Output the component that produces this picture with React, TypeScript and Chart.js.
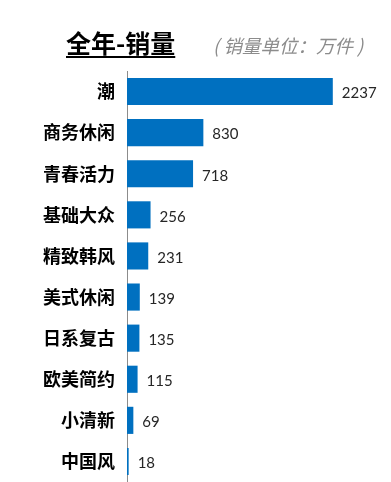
import React, { useEffect, useRef } from "react";
import { Chart, registerables } from "chart.js";

Chart.register(...registerables);

const categories = ["潮", "商务休闲", "青春活力", "基础大众", "精致韩风", "美式休闲", "日系复古", "欧美简约", "小清新", "中国风"];
const sales = [2237, 830, 718, 256, 231, 139, 135, 115, 69, 18];
const titleText = "全年-销量";
const subtitleText = "( 销量单位：万件 )";

const valueLabels = {
  id: "valueLabels",
  afterDatasetsDraw(chart: any) {
    const ctx = chart.ctx;
    const meta = chart.getDatasetMeta(0);
    ctx.save();
    ctx.font = "15px Lato, 'Noto Sans', sans-serif";
    ctx.fillStyle = "#262626";
    ctx.textAlign = "left";
    ctx.textBaseline = "middle";
    meta.data.forEach((el: any, i: number) => {
      ctx.fillText(String(sales[i]), el.x + 9, el.y + 2);
    });
    ctx.restore();
  },
};

export default function App() {
  const ref = useRef<HTMLCanvasElement>(null);
  useEffect(() => {
    document.body.style.margin = "0";
    const chart = new Chart(ref.current!, {
      type: "bar",
      data: {
        labels: categories,
        datasets: [
          {
            data: sales,
            backgroundColor: "#0070C0",
            barPercentage: 0.66,
            categoryPercentage: 1,
          },
        ],
      },
      options: {
        indexAxis: "y",
        animation: false,
        responsive: false,
        maintainAspectRatio: false,
        layout: { padding: { top: 71, right: 34, bottom: 0, left: 0 } },
        plugins: { legend: { display: false }, tooltip: { enabled: false }, title: { display: false } },
        scales: {
          x: { display: false, min: 0, max: 2500 },
          y: {
            afterFit: (s: any) => {
              s.width = 127;
              s.paddingTop = 0;
              s.paddingBottom = 0;
            },
            grid: { display: false, drawTicks: false },
            border: { display: true, color: "#8c8c8c", width: 1 },
            ticks: {
              padding: 12,
              color: "#000",
              font: { family: "'Noto Sans CJK SC', sans-serif", size: 18, weight: "bold" },
            },
          },
        },
      },
      plugins: [valueLabels],
    });
    return () => chart.destroy();
  }, []);
  return (
    <div style={{ position: "relative", width: 391, height: 482 }}>
      <canvas ref={ref} width={391} height={482} style={{ display: "block" }} />
      <div
        style={{
          position: "absolute",
          left: 66,
          top: 26,
          fontFamily: "'Noto Sans CJK SC', sans-serif",
          fontWeight: "bold",
          fontSize: 25,
          lineHeight: "32px",
          textDecoration: "underline",
          textUnderlineOffset: 3,
          color: "#000",
          whiteSpace: "nowrap",
        }}
      >
        {titleText}
      </div>
      <div
        style={{
          position: "absolute",
          left: 213,
          top: 32,
          fontFamily: "'Noto Sans CJK SC', sans-serif",
          fontStyle: "italic",
          fontSize: 18.5,
          lineHeight: "26px",
          color: "#8c8c8c",
          whiteSpace: "nowrap",
        }}
      >
        {subtitleText}
      </div>
    </div>
  );
}
